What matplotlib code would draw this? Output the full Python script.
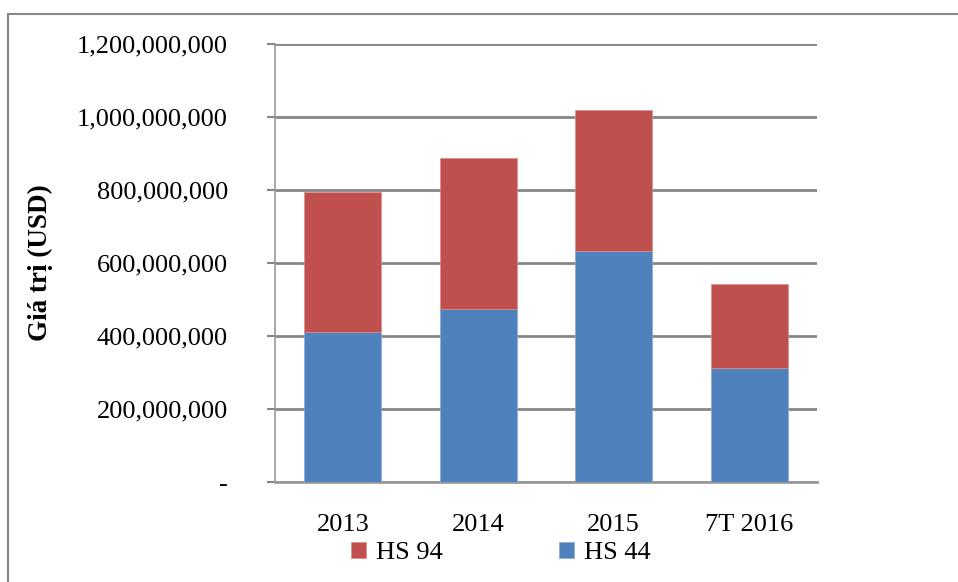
import matplotlib
matplotlib.use("Agg")
import matplotlib.pyplot as plt
from matplotlib.patches import Rectangle
from matplotlib.ticker import FuncFormatter

categories = ["2013", "2014", "2015", "7T 2016"]
hs44 = [411e6, 474e6, 632e6, 313e6]
hs94 = [384e6, 413e6, 386e6, 229e6]
yticks = [0, 200e6, 400e6, 600e6, 800e6, 1000e6, 1200e6]

plt.rcParams['font.family'] = ['Liberation Serif', 'DejaVu Serif']

fig = plt.figure(figsize=(9.58, 5.82), dpi=100)
# outer chart frame
fig.patches.append(Rectangle((8/958, -0.1), 1.2, 1 - 14/582 + 0.1, transform=fig.transFigure,
                             fill=False, edgecolor='#878787', linewidth=1.5, zorder=0))

ax = fig.add_axes([275/958, 1 - 482/582, 542/958, 438/582])
x = list(range(len(categories)))
blue = '#4F81BD'
red = '#C0504D'
ax.bar(x, hs44, width=0.57, color=blue, edgecolor='#8DA9D4', linewidth=0.5, label='HS 44', zorder=3)
ax.bar(x, hs94, width=0.57, bottom=hs44, color=red, edgecolor='#D9908E', linewidth=0.5, label='HS 94', zorder=3)

ax.set_xlim(-0.5, 3.5)
ax.set_ylim(0, 1200e6)
ax.set_yticks(yticks)
ax.yaxis.set_major_formatter(FuncFormatter(lambda v, p: '-' if v == 0 else f"{int(v):,}"))
ax.set_xticks(x)
ax.set_xticklabels(categories)
ax.grid(axis='y', color='#868686', linewidth=2, zorder=1)
for s in ['top', 'right']:
    ax.spines[s].set_visible(False)
ax.spines['left'].set_color('#9a9a9a')
ax.spines['left'].set_linewidth(1.2)
ax.spines['bottom'].set_color('#9a9a9a')
ax.spines['bottom'].set_linewidth(2)
ax.tick_params(axis='y', length=6, color='#868686', width=1.5, labelsize=19, pad=28)
ax.tick_params(axis='x', length=0, labelsize=19, pad=23)
ax.set_ylabel('Giá trị (USD)', fontsize=19.5, fontweight='bold')
ax.yaxis.set_label_coords(-0.41, 0.5)

handles, labels = ax.get_legend_handles_labels()
leg = fig.legend(handles[::-1], labels[::-1], loc='center', bbox_to_anchor=(501/958, 1 - 553/582),
                 ncol=2, frameon=False, fontsize=19, handlelength=0.55, handleheight=0.55,
                 handletextpad=0.4, columnspacing=4.4)

fig.savefig('out.png', dpi=100)
